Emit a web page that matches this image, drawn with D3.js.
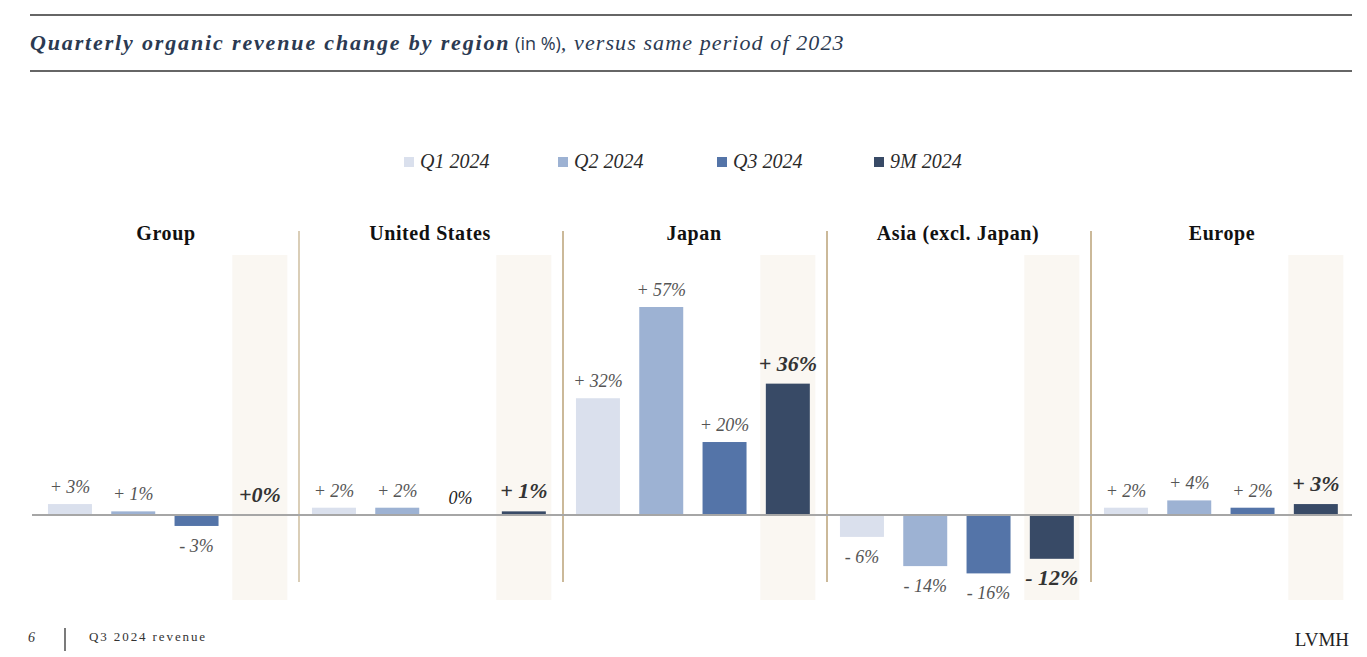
<!DOCTYPE html>
<html>
<head>
<meta charset="utf-8">
<script src="https://cdn.jsdelivr.net/npm/d3@7"></script>
<style>
  body { margin: 0; background: #fff; }
  svg { display: block; }
</style>
</head>
<body>
<div id="chart"></div>
<script>
// regions and quarterly values (in %)
const regions = ['Group', 'United States', 'Japan', 'Asia (excl. Japan)', 'Europe'];
const seriesNames = ['Q1 2024', 'Q2 2024', 'Q3 2024', '9M 2024'];
const q1Values = [3, 2, 32, -6, 2];
const q2Values = [1, 2, 57, -14, 4];
const q3Values = [-3, 0, 20, -16, 2];
const nineMValues = [0, 1, 36, -12, 3];
const q1Labels = ['+ 3%', '+ 2%', '+ 32%', '- 6%', '+ 2%'];
const q2Labels = ['+ 1%', '+ 2%', '+ 57%', '- 14%', '+ 4%'];
const q3Labels = ['- 3%', '0%', '+ 20%', '- 16%', '+ 2%'];
const nineMLabels = ['+0%', '+ 1%', '+ 36%', '- 12%', '+ 3%'];

const colors = ['#dae0ed', '#9db2d3', '#5474a8', '#384a66'];
const serif = '"Liberation Serif", "DejaVu Serif", serif';

const width = 1367, height = 657;
const svg = d3.select('#chart').append('svg')
    .attr('width', width)
    .attr('height', height);

// header
svg.append('line').attr('x1', 30).attr('x2', 1352).attr('y1', 15).attr('y2', 15)
    .attr('stroke', '#333').attr('stroke-width', 1.3);
svg.append('line').attr('x1', 30).attr('x2', 1352).attr('y1', 71).attr('y2', 71)
    .attr('stroke', '#333').attr('stroke-width', 1.3);

const title = svg.append('text')
    .attr('x', 30).attr('y', 50)
    .attr('fill', '#2b3a52')
    .style('font-family', serif)
    .style('font-size', '22px');
title.append('tspan').text('Quarterly organic revenue change by region')
    .style('font-style', 'italic').style('font-weight', 'bold').style('letter-spacing', '1.85px');
title.append('tspan').text(' (in %)')
    .style('font-family', '"Open Sans", sans-serif').style('font-size', '18px');
title.append('tspan').text(', versus same period of 2023')
    .style('font-style', 'italic').style('letter-spacing', '1.1px');

// scales
const x0 = d3.scaleBand().domain(regions).range([35, 1355]);
const x1 = d3.scaleBand().domain(seriesNames).range([0, x0.bandwidth()])
    .paddingInner(0.305).paddingOuter(0.238).align(0.43);
const y = d3.scaleLinear().domain([-16, 57]).range([573.4, 307]);

const series = [
    { name: seriesNames[0], values: q1Values, labels: q1Labels },
    { name: seriesNames[1], values: q2Values, labels: q2Labels },
    { name: seriesNames[2], values: q3Values, labels: q3Labels },
    { name: seriesNames[3], values: nineMValues, labels: nineMLabels }
];

// shaded band behind the 9M bar
svg.append('g').selectAll('rect')
    .data(regions)
    .join('rect')
    .attr('x', d => x0(d) + x1('9M 2024') + x1.bandwidth() / 2 - 27.5)
    .attr('y', 255)
    .attr('width', 55)
    .attr('height', 345)
    .attr('fill', '#faf7f2');

// separators
svg.append('g').selectAll('line')
    .data(regions.slice(1))
    .join('line')
    .attr('x1', d => x0(d)).attr('x2', d => x0(d))
    .attr('y1', 231).attr('y2', 582)
    .attr('stroke', (d, i) => i < 1 ? '#c2ae88' : '#a88a55')
    .attr('stroke-width', 1.2);

// region titles
svg.append('g').selectAll('text')
    .data(regions)
    .join('text')
    .attr('x', d => x0(d) + x0.bandwidth() / 2 - 1)
    .attr('y', 240)
    .attr('text-anchor', 'middle')
    .attr('fill', '#111')
    .style('font-family', serif)
    .style('font-weight', 'bold')
    .style('font-size', '20px')
    .style('letter-spacing', '0.6px')
    .text(d => d);

// bars
const flat = [];
series.forEach((s, si) => {
    regions.forEach((r, ri) => {
        flat.push({ region: r, series: s.name, si, value: s.values[ri], label: s.labels[ri] });
    });
});

svg.append('g').selectAll('rect')
    .data(flat.filter(d => d.value !== 0))
    .join('rect')
    .attr('x', d => x0(d.region) + x1(d.series))
    .attr('width', x1.bandwidth())
    .attr('y', d => y(Math.max(0, d.value)))
    .attr('height', d => Math.abs(y(d.value) - y(0)))
    .attr('fill', d => colors[d.si]);

// zero line
svg.append('line')
    .attr('x1', 32).attr('x2', 1352)
    .attr('y1', y(0)).attr('y2', y(0))
    .attr('stroke', '#a6a6a6').attr('stroke-width', 2);

// value labels
svg.append('g').selectAll('text')
    .data(flat)
    .join('text')
    .attr('x', d => x0(d.region) + x1(d.series) + x1.bandwidth() / 2)
    .attr('y', d => d.value >= 0 ? y(d.value) - (d.si === 3 ? 13 : 11) : y(d.value) + 26)
    .attr('text-anchor', 'middle')
    .attr('fill', d => d.si === 3 ? '#333' : (d.value === 0 ? '#222' : '#555'))
    .style('font-family', serif)
    .style('font-style', 'italic')
    .style('font-weight', d => d.si === 3 ? 'bold' : 'normal')
    .style('font-size', d => d.si === 3 ? '22px' : '18px')
    .text(d => d.label);

// legend
const legendX = [404, 558, 717, 874];
const legend = svg.append('g').selectAll('g')
    .data(seriesNames)
    .join('g')
    .attr('transform', (d, i) => `translate(${legendX[i]},157)`);
legend.append('rect')
    .attr('width', 10).attr('height', 10)
    .attr('fill', (d, i) => colors[i]);
legend.append('text')
    .attr('x', 16).attr('y', 11)
    .attr('fill', '#2a2a2a')
    .style('font-family', serif)
    .style('font-style', 'italic')
    .style('font-size', '20px')
    .text(d => d);

// footer
svg.append('text').attr('x', 28).attr('y', 642)
    .style('font-family', serif).style('font-style', 'italic').style('font-size', '14px')
    .attr('fill', '#333').text('6');
svg.append('line').attr('x1', 65).attr('x2', 65).attr('y1', 628).attr('y2', 651)
    .attr('stroke', '#222').attr('stroke-width', 1.2);
svg.append('text').attr('x', 89).attr('y', 641)
    .style('font-family', serif).style('font-size', '13px').style('letter-spacing', '1.9px')
    .attr('fill', '#333').text('Q3 2024 revenue');
svg.append('text').attr('x', 1349).attr('y', 646).attr('text-anchor', 'end')
    .style('font-family', serif).style('font-size', '19px')
    .attr('fill', '#222').text('LVMH');
</script>
</body>
</html>
